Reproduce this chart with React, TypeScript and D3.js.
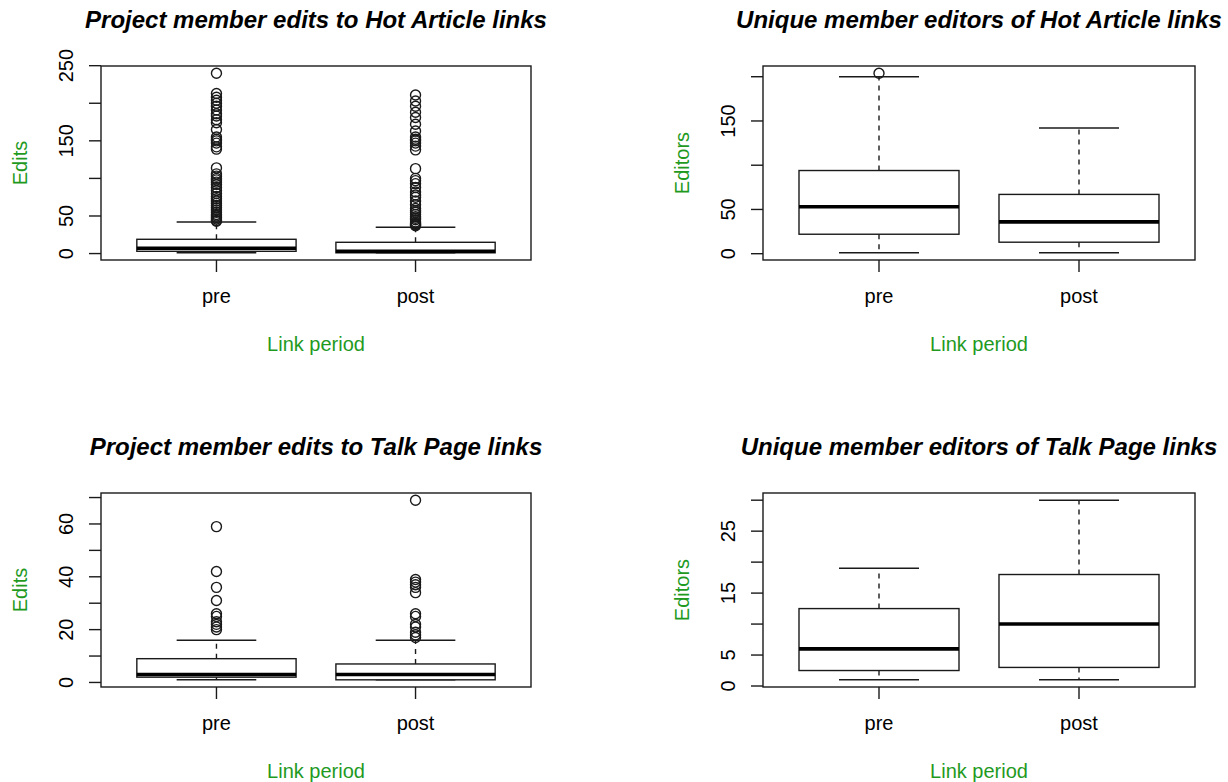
import React from "react";
import * as d3 from "d3";

// ---------- data ----------
const categories = ["pre", "post"];

const titles = [
  "Project member edits to Hot Article links",
  "Unique member editors of Hot Article links",
  "Project member edits to Talk Page links",
  "Unique member editors of Talk Page links",
];
const yLabels = ["Edits", "Editors", "Edits", "Editors"];
const xLabel = "Link period";

// five-number stats per group: [lowerWhisker, Q1, median, Q3, upperWhisker]
const hotEditsStats = [
  [1, 3, 7, 19, 42],
  [1, 1, 3, 15, 35],
];
const hotEditsOutliers = [
  [240, 213, 208, 204, 200, 196, 191, 186, 183, 178, 174, 165, 155, 152, 150, 147, 142, 139,
    114, 106, 103, 100, 98, 95, 92, 88, 84, 80, 76, 73, 70, 67, 64, 61, 58, 55, 52, 50, 48, 46, 44, 43],
  [211, 203, 196, 188, 181, 172, 163, 155, 152, 150, 147, 143, 138,
    113, 100, 97, 93, 88, 82, 78, 75, 70, 65, 60, 57, 55, 52, 49, 47, 45, 42, 40, 39, 38, 37],
];
const hotEditorsStats = [
  [1, 22, 53, 94, 200],
  [1, 13, 36, 67, 142],
];
const hotEditorsOutliers = [[204], []];
const talkEditsStats = [
  [1, 2, 3, 9, 16],
  [1, 1, 3, 7, 16],
];
const talkEditsOutliers = [
  [59, 42, 36, 31, 26, 25, 23, 22, 21, 20],
  [69, 39, 38, 37, 36, 34, 26, 25, 22, 21, 19, 18, 17],
];
const talkEditorsStats = [
  [1, 2.5, 6, 12.5, 19],
  [1, 3, 10, 18, 30],
];
const talkEditorsOutliers = [[], []];

const yTicks = [
  [0, 50, 100, 150, 200, 250],
  [0, 50, 100, 150, 200],
  [0, 10, 20, 30, 40, 50, 60, 70],
  [0, 5, 10, 15, 20, 25, 30],
];
const yTickLabels = [
  [0, 50, 150, 250],
  [0, 50, 150],
  [0, 20, 40, 60],
  [0, 5, 15, 25],
];

const panelStats = [hotEditsStats, hotEditorsStats, talkEditsStats, talkEditorsStats];
const panelOutliers = [hotEditsOutliers, hotEditorsOutliers, talkEditsOutliers, talkEditorsOutliers];

// ---------- layout ----------
const boxes = [
  { left: 101, right: 531, top: 66, bottom: 260 },
  { left: 763, right: 1195, top: 66, bottom: 260 },
  { left: 101, right: 531, top: 493, bottom: 687 },
  { left: 763, right: 1195, top: 493, bottom: 687 },
];
const GREEN = "#1f9a1f";
const FONT = "'Liberation Sans', Arial, Helvetica, sans-serif";

function Panel({ idx }: { idx: number }) {
  const b = boxes[idx];
  const stats = panelStats[idx];
  const outs = panelOutliers[idx];
  const all = stats.flat().concat(outs.flat());
  const lo = d3.min(all)!;
  const hi = d3.max(all)!;
  const pad = (hi - lo) * 0.04;
  const y = d3.scaleLinear().domain([lo - pad, hi + pad]).range([b.bottom, b.top]);
  const x = d3.scaleLinear().domain([0.42, 2.58]).range([b.left, b.right]);
  const cx = (b.left + b.right) / 2;
  const cy = (b.top + b.bottom) / 2;
  const lw = 1.4;
  const stroke = "#1a1a1a";

  return (
    <g>
      <text x={cx} y={b.top - 38} textAnchor="middle" fontFamily={FONT} fontSize={24}
        fontWeight="bold" fontStyle="italic" fill="#000">{titles[idx]}</text>
      {stats.map((s, i) => {
        const c = x(i + 1);
        const x0 = x(i + 1 - 0.4), x1 = x(i + 1 + 0.4);
        const s0 = x(i + 1 - 0.2), s1 = x(i + 1 + 0.2);
        return (
          <g key={i} stroke={stroke} fill="none">
            <line x1={c} x2={c} y1={y(s[3])} y2={y(s[4])} strokeWidth={lw} strokeDasharray="5,5" />
            <line x1={c} x2={c} y1={y(s[1])} y2={y(s[0])} strokeWidth={lw} strokeDasharray="5,5" />
            <line x1={s0} x2={s1} y1={y(s[4])} y2={y(s[4])} strokeWidth={lw} />
            <line x1={s0} x2={s1} y1={y(s[0])} y2={y(s[0])} strokeWidth={lw} />
            <rect x={x0} y={y(s[3])} width={x1 - x0} height={y(s[1]) - y(s[3])} fill="#fff" strokeWidth={lw} />
            <line x1={x0} x2={x1} y1={y(s[2])} y2={y(s[2])} strokeWidth={3.6} stroke="#000" />
            {outs[i].map((v, k) => (
              <circle key={k} cx={c} cy={y(v)} r={5} strokeWidth={lw} fill="none" />
            ))}
          </g>
        );
      })}
      <rect x={b.left} y={b.top} width={b.right - b.left} height={b.bottom - b.top}
        fill="none" stroke={stroke} strokeWidth={lw} />
      {yTicks[idx].map((t) => (
        <line key={t} x1={b.left - 12} x2={b.left} y1={y(t)} y2={y(t)} stroke={stroke} strokeWidth={lw} />
      ))}
      {yTickLabels[idx].map((t) => (
        <text key={t} transform={`translate(${b.left - 28},${y(t)}) rotate(-90)`} textAnchor="middle"
          fontFamily={FONT} fontSize={20} fill="#000">{t}</text>
      ))}
      {categories.map((c, i) => (
        <g key={c}>
          <line x1={x(i + 1)} x2={x(i + 1)} y1={b.bottom} y2={b.bottom + 12} stroke={stroke} strokeWidth={lw} />
          <text x={x(i + 1)} y={b.bottom + 43} textAnchor="middle" fontFamily={FONT} fontSize={20} fill="#000">{c}</text>
        </g>
      ))}
      <text x={cx} y={b.bottom + 91} textAnchor="middle" fontFamily={FONT} fontSize={20} fill={GREEN}>{xLabel}</text>
      <text transform={`translate(${b.left - 74},${cy}) rotate(-90)`} textAnchor="middle"
        fontFamily={FONT} fontSize={20} fill={GREEN}>{yLabels[idx]}</text>
    </g>
  );
}

export default function App() {
  return (
    <svg width={1228} height={782} style={{ position: "absolute", left: 0, top: 0, background: "#fff" }}>
      <rect width={1228} height={782} fill="#fff" />
      {boxes.map((_, i) => (
        <Panel key={i} idx={i} />
      ))}
    </svg>
  );
}
